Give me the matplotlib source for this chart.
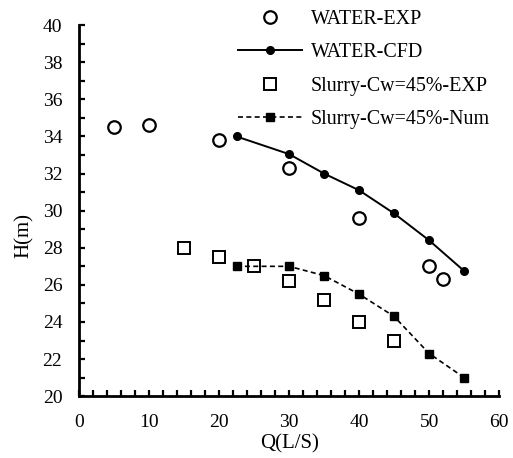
import matplotlib
matplotlib.use("Agg")
import matplotlib.pyplot as plt
from matplotlib.ticker import MultipleLocator

plt.rcParams['font.family'] = ['Liberation Serif', 'DejaVu Serif']

water_exp_q = [5, 10, 20, 30, 40, 50, 52]
water_exp_h = [34.5, 34.6, 33.8, 32.3, 29.6, 27.0, 26.3]
water_cfd_q = [22.5, 30, 35, 40, 45, 50, 55]
water_cfd_h = [34.0, 33.05, 32.0, 31.1, 29.85, 28.4, 26.75]
slurry_exp_q = [15, 20, 25, 30, 35, 40, 45]
slurry_exp_h = [28.0, 27.5, 27.0, 26.2, 25.2, 24.0, 23.0]
slurry_num_q = [22.5, 30, 35, 40, 45, 50, 55]
slurry_num_h = [27.0, 27.0, 26.5, 25.5, 24.3, 22.3, 21.0]

fig = plt.figure(figsize=(5.13, 4.58), dpi=100)
ax = fig.add_axes([0.154, 0.135, 0.819, 0.81])

ax.plot(water_exp_q, water_exp_h, 'o', mfc='white', mec='black', mew=1.6, ms=9, ls='none', label='WATER-EXP')
ax.plot(water_cfd_q, water_cfd_h, '-o', color='black', lw=1.4, ms=5.5, label='WATER-CFD')
ax.plot(slurry_exp_q, slurry_exp_h, 's', mfc='white', mec='black', mew=1.4, ms=8, ls='none', label='Slurry-Cw=45%-EXP')
ax.plot(slurry_num_q, slurry_num_h, '--s', color='black', lw=1.2, ms=6, dashes=(3, 2), label='Slurry-Cw=45%-Num')

ax.set_xlim(0, 60)
ax.set_ylim(20, 40)
ax.xaxis.set_major_locator(MultipleLocator(10))
ax.xaxis.set_minor_locator(MultipleLocator(2))
ax.yaxis.set_major_locator(MultipleLocator(2))
ax.yaxis.set_minor_locator(MultipleLocator(1))
for s in ['top', 'right']:
    ax.spines[s].set_visible(False)
for s in ['left', 'bottom']:
    ax.spines[s].set_linewidth(2.0)
ax.tick_params(which='both', direction='in', width=1.6, labelsize=14, length=4)
ax.tick_params(axis='y', which='major', pad=12)
ax.tick_params(axis='x', which='major', pad=13)

ax.set_xlabel('Q(L/S)', fontsize=15, labelpad=2)
ax.set_ylabel('H(m)', fontsize=15)
ax.yaxis.set_label_coords(-0.107, 0.434)

fig.legend(loc='upper left', bbox_to_anchor=(0.464, 0.979), frameon=False, fontsize=14.4,
           handlelength=3.2, handletextpad=0.45, labelspacing=0.73,
           borderpad=0, borderaxespad=0)

fig.savefig('out.png', dpi=100)
